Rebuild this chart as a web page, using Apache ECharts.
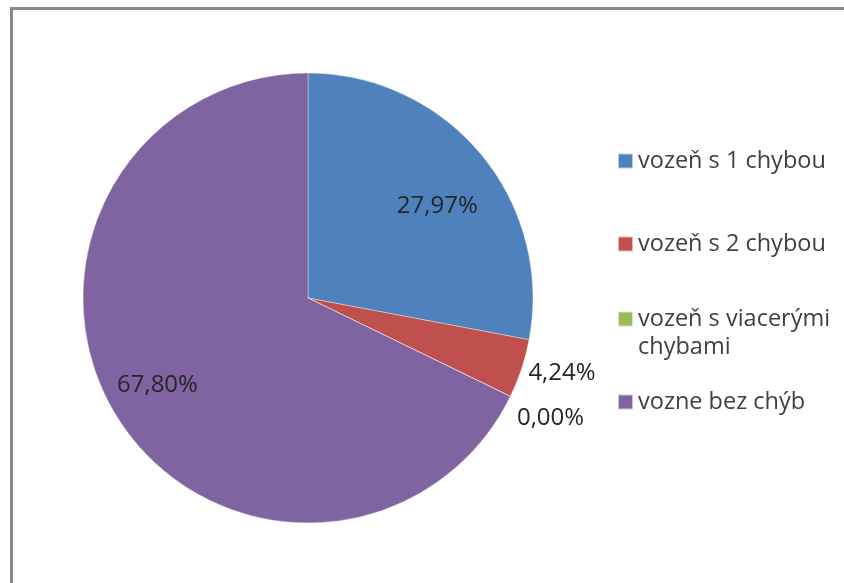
<!DOCTYPE html>
<html>
<head>
<meta charset="utf-8">
<script src="https://cdn.jsdelivr.net/npm/echarts@6/dist/echarts.min.js"></script>
<style>
html,body{margin:0;padding:0;background:#fff;}
#chart{width:844px;height:583px;}
</style>
</head>
<body>
<div id="chart"></div>
<script>
const categories = ['vozeň s 1 chybou', 'vozeň s 2 chybou', 'vozeň s viacerými chybami', 'vozne bez chýb'];
const values = [27.97, 4.24, 0.00, 67.80];
const colors = ['#4F81BD', '#C0504D', '#9BBB59', '#8064A2'];
const insideLabel = [true, false, false, true];

// layout-only tweaks
const legendTops = [147, 230, 277, 388];
const labelNudge = [[-2, 17], [-2, 3], [-2, 20], [-6, -3]];
const FONT = '"Open Sans", "Liberation Sans", sans-serif';

const chart = echarts.init(document.getElementById('chart'));

const fmt = p => p.value.toFixed(2).replace('.', ',') + '%';
const nudge = p => ({ dx: labelNudge[p.dataIndex][0], dy: labelNudge[p.dataIndex][1] });

const mainData = categories.map((c, i) => ({
  name: c,
  value: values[i],
  itemStyle: { color: colors[i] },
  label: { show: !insideLabel[i] }
}));

const overlayData = categories.map((c, i) => ({
  name: c,
  value: values[i],
  label: { show: insideLabel[i] }
}));

const legendText = name => name === 'vozeň s viacerými chybami'
  ? ' \nvozeň s viacerými\nchybami' : name;

const legends = categories.map((c, i) => ({
  data: [c],
  orient: 'vertical',
  left: 617,
  top: legendTops[i],
  padding: 0,
  itemWidth: 15,
  itemHeight: 15,
  icon: 'rect',
  selectedMode: false,
  formatter: legendText,
  textStyle: {
    fontFamily: FONT,
    fontSize: 23.5,
    color: '#404040',
    lineHeight: 28
  }
}));

chart.setOption({
  backgroundColor: '#fff',
  animation: false,
  color: colors,
  graphic: [{
    type: 'rect',
    shape: { x: 11.5, y: 8.5, width: 1200, height: 1200 },
    style: { fill: 'none', stroke: '#8a8a8a', lineWidth: 3 },
    silent: true
  }],
  legend: legends,
  series: [{
    type: 'pie',
    center: [308, 298],
    radius: [0, 225],
    startAngle: 90,
    clockwise: true,
    avoidLabelOverlap: false,
    itemStyle: { borderColor: 'rgba(255,255,255,0.6)', borderWidth: 0.6 },
    label: {
      position: 'outside',
      formatter: fmt,
      fontFamily: FONT,
      fontSize: 24,
      color: '#262626'
    },
    labelLine: { show: false, length: 4, length2: 0 },
    labelLayout: nudge,
    emphasis: { disabled: true },
    data: mainData
  }, {
    type: 'pie',
    center: [308, 298],
    radius: [110, 225],
    startAngle: 90,
    clockwise: true,
    silent: true,
    avoidLabelOverlap: false,
    legendHoverLink: false,
    itemStyle: { color: 'rgba(0,0,0,0)', borderWidth: 0 },
    label: {
      position: 'inside',
      formatter: fmt,
      fontFamily: FONT,
      fontSize: 24,
      color: '#262626'
    },
    labelLine: { show: false },
    labelLayout: nudge,
    emphasis: { disabled: true },
    data: overlayData
  }]
});
</script>
</body>
</html>
